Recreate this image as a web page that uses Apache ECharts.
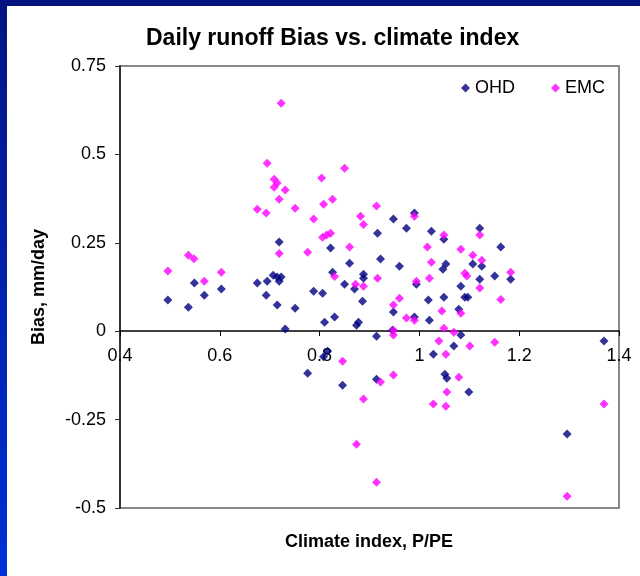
<!DOCTYPE html>
<html>
<head>
<meta charset="utf-8">
<script src="https://cdn.jsdelivr.net/npm/echarts@6/dist/echarts.min.js"></script>
<style>
  html, body { margin: 0; padding: 0; background: #fff; }
  #myChart { width: 640px; height: 576px; }
</style>
</head>
<body>
<div id="myChart"></div>
<script>
// climate index (P/PE) and bias (mm/day)
var ohdX = [0.496, 0.537, 0.549, 0.569, 0.603, 0.675, 0.693, 0.695, 0.707, 0.715, 0.723, 0.719, 0.715, 0.719, 0.731,
  0.751, 0.776, 0.788, 0.806, 0.808, 0.816, 0.810, 0.822, 0.826, 0.830, 0.846, 0.850, 0.860, 0.870, 0.874,
  0.878, 0.886, 0.888, 0.888, 0.914, 0.914, 0.916, 0.922, 0.946, 0.948, 0.948, 0.960, 0.974, 0.990, 0.990,
  0.994, 1.018, 1.020, 1.024, 1.028, 1.047, 1.049, 1.049, 1.051, 1.053, 1.055, 1.069, 1.079, 1.083, 1.083,
  1.091, 1.097, 1.099, 1.107, 1.121, 1.121, 1.125, 1.151, 1.163, 1.183, 1.296, 1.370];
var ohdY = [0.088, 0.068, 0.136, 0.102, 0.119, 0.136, 0.102, 0.141, 0.158, 0.153, 0.153, 0.141, 0.074, 0.252, 0.006,
  0.065, -0.119, 0.113, 0.107, -0.072, -0.057, 0.025, 0.235, 0.167, 0.040, -0.153, 0.133, 0.192, 0.119, 0.017,
  0.025, 0.085, 0.161, 0.150, -0.014, -0.136, 0.277, 0.204, 0.003, 0.317, 0.054, 0.184, 0.291, 0.334, 0.040,
  0.133, 0.088, 0.031, 0.283, -0.065, 0.175, 0.260, 0.096, -0.122, 0.190, -0.133, -0.042, 0.062, 0.127, -0.011,
  0.096, 0.096, -0.172, 0.190, 0.291, 0.147, 0.184, 0.156, 0.238, 0.147, -0.291, -0.028];

var emcX = [0.496, 0.537, 0.548, 0.569, 0.603, 0.675, 0.693, 0.695, 0.709, 0.715, 0.709, 0.731, 0.723, 0.719, 0.719,
  0.751, 0.776, 0.788, 0.804, 0.806, 0.814, 0.822, 0.808, 0.826, 0.830, 0.846, 0.850, 0.860, 0.872, 0.874,
  0.882, 0.888, 0.888, 0.888, 0.914, 0.914, 0.916, 0.922, 0.948, 0.948, 0.948, 0.948, 0.960, 0.974, 0.990,
  0.990, 0.994, 1.016, 1.020, 1.024, 1.028, 1.039, 1.045, 1.049, 1.049, 1.053, 1.053, 1.055, 1.069, 1.079,
  1.083, 1.083, 1.091, 1.095, 1.101, 1.107, 1.121, 1.121, 1.125, 1.151, 1.163, 1.183, 1.296, 1.370];
var emcY = [0.170, 0.215, 0.205, 0.141, 0.167, 0.345, 0.334, 0.475, 0.430, 0.419, 0.407, 0.399, 0.645, 0.373, 0.220,
  0.348, 0.223, 0.317, 0.433, 0.266, 0.272, 0.277, 0.359, 0.373, 0.155, -0.085, 0.461, 0.238, 0.133, -0.320,
  0.325, 0.302, 0.127, -0.192, 0.354, -0.427, 0.150, -0.144, 0.074, 0.003, -0.011, -0.124, 0.093, 0.037, 0.325,
  0.031, 0.141, 0.238, 0.150, 0.195, -0.206, -0.028, 0.057, 0.272, 0.008, -0.065, -0.212, -0.172, -0.003, -0.130,
  0.232, 0.051, 0.164, 0.156, -0.042, 0.215, 0.272, 0.122, 0.201, -0.031, 0.090, 0.167, -0.467, -0.206];

function pairs(xs, ys){
  var out = [];
  for (var i = 0; i < xs.length; i++) out.push([xs[i], ys[i]]);
  return out;
}

var myChart = echarts.init(document.getElementById('myChart'));
var font = 'Liberation Sans, Arial, sans-serif';

var option = {
  backgroundColor: '#fff',
  animation: false,
  // blue slide frame on top and left
  graphic: [
    { type: 'rect', left: 0, top: 0, shape: { width: 640, height: 6 }, style: { fill: '#021480' } },
    { type: 'rect', left: 0, top: 0, shape: { width: 7, height: 576 },
      style: { fill: new echarts.graphic.LinearGradient(0, 0, 0, 1, [
        { offset: 0, color: '#021480' }, { offset: 1, color: '#0030d8' }]) } }
  ],
  title: [
    { text: 'Daily runoff Bias vs. climate index', left: 146, top: 27, padding: 0,
      textStyle: { fontFamily: font, fontSize: 23, fontWeight: 'bold', color: '#000' } },
    { text: 'Climate index, P/PE', left: 285, top: 533, padding: 0,
      textStyle: { fontFamily: font, fontSize: 18, fontWeight: 'bold', color: '#000' } }
  ],
  legend: {
    right: 30, top: 74, itemGap: 36, itemWidth: 9, itemHeight: 9,
    textStyle: { fontFamily: font, fontSize: 18, color: '#000' },
    data: [{ name: 'OHD', icon: 'diamond' }, { name: 'EMC', icon: 'diamond' }]
  },
  grid: {
    left: 120, top: 66, right: 21, bottom: 68,
    show: true, borderColor: '#888', borderWidth: 2, backgroundColor: '#fff'
  },
  xAxis: {
    type: 'value', min: 0.4, max: 1.4, interval: 0.2,
    position: 'bottom', offset: -177,
    axisLine: { onZero: false, lineStyle: { color: '#000', width: 1.5 } },
    axisTick: { show: true, inside: false, length: 5, lineStyle: { color: '#000' } },
    axisLabel: { margin: 16, fontFamily: font, fontSize: 18, color: '#000' },
    splitLine: { show: false }
  },
  yAxis: {
    type: 'value', min: -0.5, max: 0.75, interval: 0.25,
    name: 'Bias, mm/day', nameLocation: 'middle', nameGap: 72, nameRotate: 90,
    nameTextStyle: { fontFamily: font, fontSize: 18, fontWeight: 'bold', color: '#000' },
    axisLine: { show: true, onZero: false, lineStyle: { color: '#333', width: 2 } },
    axisTick: { show: true, length: 5, lineStyle: { color: '#333' } },
    axisLabel: { margin: 14, fontFamily: font, fontSize: 18, color: '#000' },
    splitLine: { show: false }
  },
  series: [
    { name: 'OHD', type: 'scatter', symbol: 'diamond', symbolSize: 9,
      itemStyle: { color: '#000080' }, data: pairs(ohdX, ohdY) },
    { name: 'EMC', type: 'scatter', symbol: 'diamond', symbolSize: 9,
      itemStyle: { color: '#ff00ff' }, data: pairs(emcX, emcY) }
  ]
};
myChart.setOption(option);
</script>
</body>
</html>
